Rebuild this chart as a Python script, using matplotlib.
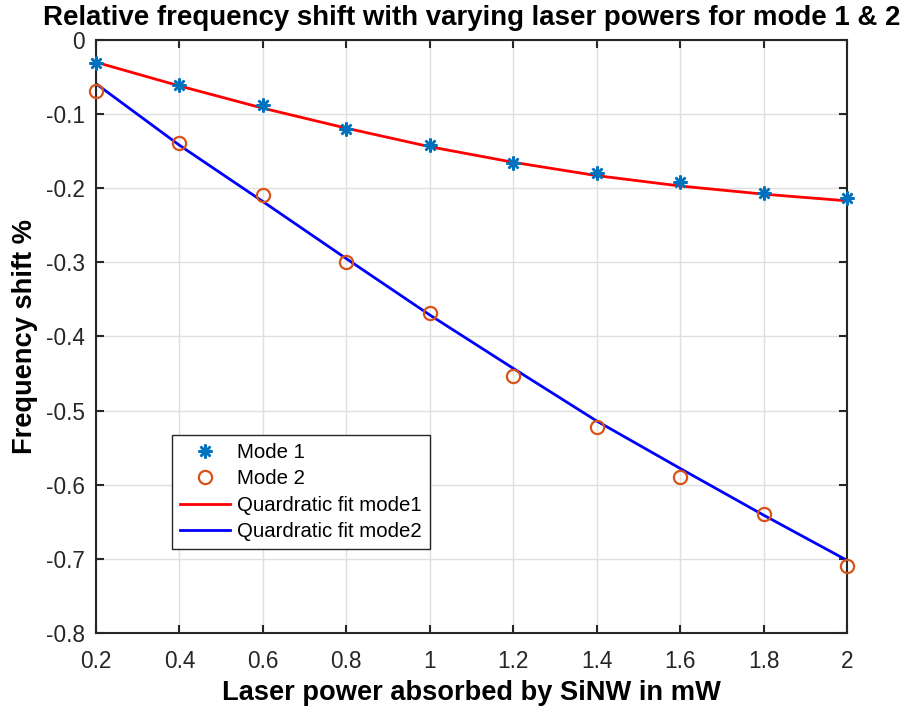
import matplotlib
matplotlib.use('Agg')
import numpy as np
from matplotlib import pyplot as plt

# laser power (mW)
power = [0.2, 0.4, 0.6, 0.8, 1.0, 1.2, 1.4, 1.6, 1.8, 2.0]

# measured relative frequency shift (%)
mode1 = [-0.031, -0.061, -0.088, -0.120, -0.142, -0.166, -0.180, -0.192, -0.207, -0.213]
mode2 = [-0.069, -0.139, -0.209, -0.299, -0.369, -0.454, -0.522, -0.589, -0.639, -0.709]

# quadratic fit values read at the same powers
fit1 = [-0.030, -0.062, -0.092, -0.119, -0.144, -0.165, -0.183, -0.197, -0.208, -0.217]
fit2 = [-0.059, -0.142, -0.218, -0.295, -0.371, -0.443, -0.514, -0.578, -0.641, -0.702]

xticks = [0.2, 0.4, 0.6, 0.8, 1, 1.2, 1.4, 1.6, 1.8, 2]
xticklabels = ['0.2', '0.4', '0.6', '0.8', '1', '1.2', '1.4', '1.6', '1.8', '2']
yticks = [0, -0.1, -0.2, -0.3, -0.4, -0.5, -0.6, -0.7, -0.8]
yticklabels = ['0', '-0.1', '-0.2', '-0.3', '-0.4', '-0.5', '-0.6', '-0.7', '-0.8']

plt.rcParams['font.family'] = ['Liberation Sans', 'DejaVu Sans']

fig = plt.figure(figsize=(9.03, 7.10), dpi=100)
ax = fig.add_axes([0.1063, 0.1085, 0.8317, 0.8352])

ax.plot(power, mode1, linestyle='none', marker=(8, 2, 0), markersize=10, color='#0072BD',
        markeredgecolor='#0072BD', markeredgewidth=1.8, label='Mode 1', zorder=3, clip_on=False)
ax.plot(power, mode2, linestyle='none', marker='o', markersize=9.5, markerfacecolor='none',
        markeredgecolor='#D95319', markeredgewidth=1.6, label='Mode 2', zorder=3, clip_on=False)
ax.plot(power, fit1, color='#FF0000', linewidth=2, label='Quardratic fit mode1', zorder=2)
ax.plot(power, fit2, color='#0000FF', linewidth=2, label='Quardratic fit mode2', zorder=2)

ax.set_xlim(0.2, 2)
ax.set_ylim(-0.8, 0)
ax.set_xticks(xticks)
ax.set_xticklabels(xticklabels)
ax.set_yticks(yticks)
ax.set_yticklabels(yticklabels)
ax.tick_params(direction='in', length=6, width=1.5, labelsize=16.3, colors='#262626',
               top=True, right=True, pad=8)
ax.tick_params(axis='x', pad=12)
for s in ax.spines.values():
    s.set_linewidth(1.5)
    s.set_color('#262626')
ax.grid(True, color='#DFDFDF', linewidth=1)
ax.set_axisbelow(True)

ax.set_xlabel('Laser power absorbed by SiNW in mW', fontsize=19.6, fontweight='bold', labelpad=5)
ax.set_ylabel('Frequency shift %', fontsize=19.6, fontweight='bold', labelpad=6)
ax.set_title('Relative frequency shift with varying laser powers for mode 1 & 2',
             fontsize=19.9, fontweight='bold', pad=11)

leg = ax.legend(loc='upper left', bbox_to_anchor=(0.101, 0.334), borderaxespad=0,
                fontsize=14.7, fancybox=False, framealpha=1, edgecolor='#262626',
                handlelength=2.45, borderpad=0.4, labelspacing=0.36, handletextpad=0.36)
leg.get_frame().set_linewidth(1)

fig.savefig('out.png', dpi=100)
